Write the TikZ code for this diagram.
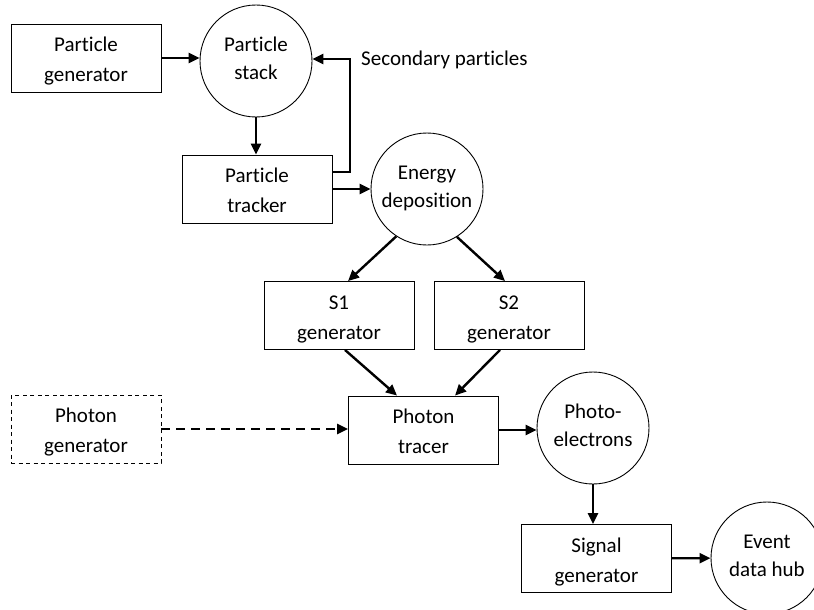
\documentclass[tikz,border=0pt]{standalone}
\usepackage{fontspec}
\setmainfont{Carlito}[Ligatures=NoCommon]
\usepackage{tikz}
\usetikzlibrary{arrows.meta, shapes}

\begin{document}
\begin{tikzpicture}[x=1pt, y=-1pt,
  font=\fontsize{21}{30}\selectfont,
  block/.style={rectangle, draw=black, line width=0.9pt, fill=white,
    minimum width=150pt, minimum height=68pt, align=center, inner sep=0pt,
    text height=47pt, text depth=0pt},
  %
  optional/.style={block, dash pattern=on 4pt off 3.5pt},
  %
  pool/.style={circle, draw=black, line width=0.9pt, fill=white,
    minimum size=112pt, align=center, inner sep=0pt,
    font=\fontsize{21}{27.5}\selectfont, text height=36pt, text depth=0pt},
  %
  flow/.style={-{Triangle[length=11pt, width=10pt]}, line width=2.4pt},
  %
  note/.style={anchor=base west, inner sep=0pt}
  ]

  \useasboundingbox (0,0) rectangle (814,610);
  \clip (0,0) rectangle (814,610);
  \fill [white] (0,0) rectangle (814,610);

  \begin{scope}
    %%%%%%%%%%%%%%%%%%%%%%%%%%%%%%%
    \node [block] (partgen) at (86,58) {Particle\\generator};
    \node [pool] (stack) at (256,61) {Particle\\stack};
    \node [block] (tracker) at (257,189) {Particle\\tracker};
    \node [pool] (edep) at (427,189) {Energy\\deposition};
    %%%%%%%%%%%%%%%%%%%%%%%%%%%%%%%
    \node [block] (sonegen) at (339,315.5) {S1\\generator};
    \node [block] (stwogen) at (509,315.5) {S2\\generator};
    %%%%%%%%%%%%%%%%%%%%%%%%%%%%%%%
    \node [optional] (photgen) at (86,429) {Photon\\generator};
    \node [block] (tracer) at (423.5,430) {Photon\\tracer};
    \node [pool] (pe) at (593,428) {Photo-\\electrons};
    %%%%%%%%%%%%%%%%%%%%%%%%%%%%%%%
    \node [block] (siggen) at (596.5,558.5) {Signal\\generator};
    \node [pool] (hub) at (767,558) {Event\\data hub};
    %%%%%%%%%%%%%%%%%%%%%%%%%%%%%%%
    \coordinate (bend) at (350,59);
    \node [note] (secondary) at (361,66) {Secondary particles};
  \end{scope}

  \begin{scope}
    \draw [flow] (partgen.east) -- (partgen.east -| stack.west);
    \draw [flow] (stack) -- (stack |- tracker.north);
    \draw [flow] ([yshift=17pt]tracker.east) -| (bend) -- (bend -| stack.east);
    \draw [flow] (tracker) -- (edep);
    \draw [flow] (edep.237) -- ([xshift=9pt]sonegen.north);
    \draw [flow] (edep.302) -- ([xshift=-4pt]stwogen.north);
    \draw [flow] ([xshift=6pt]sonegen.south) -- ([xshift=-26.5pt]tracer.north);
    \draw [flow] ([xshift=-9pt]stwogen.south) -- ([xshift=31.5pt]tracer.north);
    \draw [flow, dash pattern=on 9pt off 6pt] (photgen.east) -- (photgen.east -| tracer.west);
    \draw [flow] (tracer.east) -- (tracer.east -| pe.west);
    \draw [flow] (pe.south) -- (pe.south |- siggen.north);
    \draw [flow] (siggen) -- (hub);
  \end{scope}

\end{tikzpicture}
\end{document}
